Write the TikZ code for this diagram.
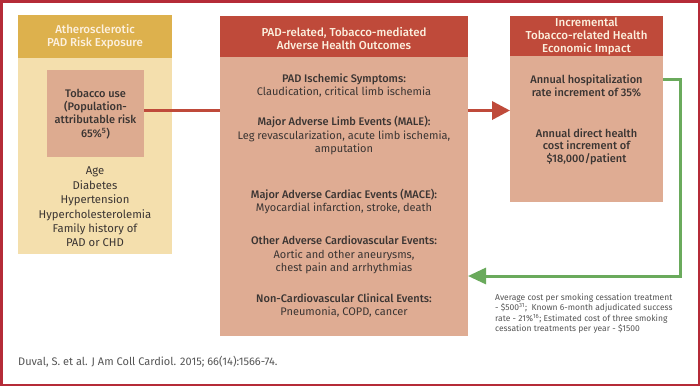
\documentclass[tikz,border=0pt]{standalone}
\usepackage{fontspec}
\setmainfont{Fira Sans}[BoldFont={Fira Sans Medium}]
\usetikzlibrary{arrows.meta}
\definecolor{frameR}{HTML}{B52B38}
\definecolor{goldHead}{HTML}{DDB14D}
\definecolor{goldBody}{HTML}{F4DFAD}
\definecolor{tobac}{HTML}{DDAB90}
\definecolor{redHead}{HTML}{BF4A3A}
\definecolor{redBody}{HTML}{DFAC93}
\definecolor{headTxt}{HTML}{FCF0DE}
\definecolor{bodyTxt}{HTML}{3B3533}
\definecolor{greenA}{HTML}{6AAA5C}
\definecolor{noteTxt}{HTML}{555555}
\tikzset{
  panel/.style={inner sep=0pt, outer sep=0pt, draw=none},
  headtext/.style={align=center, text=headTxt, font=\fontsize{11.5}{12.6}\selectfont\bfseries, inner sep=0pt},
  bodytext/.style={align=center, text=bodyTxt, font=\fontsize{11}{13.3}\selectfont, inner sep=0pt},
  redarrow/.style={draw=redHead, line width=3.5pt},
  greenarrow/.style={draw=greenA, line width=3pt}
}
\begin{document}
\begin{tikzpicture}[x=1pt,y=-1pt]
\useasboundingbox (0,0) rectangle (700,386);
\fill[white] (0,0) rectangle (700,386);
\draw[frameR, line width=2.5pt] (1.25,1.25) rectangle (698.75,384.75);

% left column
\node[panel, fill=goldHead, minimum width=154pt, minimum height=43pt] (lh) at (95,36.5) {};
\node[panel, fill=goldBody, minimum width=154pt, minimum height=196pt] (lb) at (95,156) {};
\node[headtext] (lht) at (95,36.5) {Atherosclerotic\\PAD Risk Exposure};
\node[panel, fill=tobac, minimum width=97pt, minimum height=87pt] (tob) at (95.5,113.5) {};
\node[bodytext, font=\fontsize{11}{13.3}\selectfont\bfseries] (tobt) at (95.5,114) {Tobacco use\\(Population-\\attributable risk\\65\%\textsuperscript{5})};
\node[bodytext, font=\fontsize{11.3}{14.4}\selectfont] (risk) at (95,207) {Age\\Diabetes\\Hypertension\\Hypercholesterolemia\\Family history of\\PAD or CHD};

% middle column
\node[panel, fill=redHead, minimum width=248pt, minimum height=41pt] (mh) at (344,36.5) {};
\node[panel, fill=redBody, minimum width=248pt, minimum height=279pt] (mb) at (344,196.5) {};
\node[headtext] (mht) at (344,38.5) {PAD-related, Tobacco-mediated\\Adverse Health Outcomes};
\node[bodytext] (m1) at (344,85.5) {\textbf{PAD Ischemic Symptoms:}\\Claudication, critical limb ischemia};
\node[bodytext] (m2) at (344,135.5) {\textbf{Major Adverse Limb Events (MALE):}\\Leg revascularization, acute limb ischemia,\\amputation};
\node[bodytext] (m3) at (344,201.5) {\textbf{Major Adverse Cardiac Events (MACE):}\\Myocardial infarction, stroke, death};
\node[bodytext] (m4) at (344,255) {\textbf{Other Adverse Cardiovascular Events:}\\Aortic and other aneurysms,\\chest pain and arrhythmias};
\node[bodytext] (m5) at (344,305.5) {\textbf{Non-Cardiovascular Clinical Events:}\\Pneumonia, COPD, cancer};

% right column
\node[panel, fill=redHead, minimum width=153pt, minimum height=40pt] (rh) at (586.5,36) {};
\node[panel, fill=redBody, minimum width=153pt, minimum height=146pt] (rb) at (586.5,129) {};
\node[headtext] (rht) at (586.5,36.5) {Incremental\\Tobacco-related Health\\Economic Impact};
\node[bodytext, font=\fontsize{11}{12.5}\selectfont\bfseries] (r1) at (586.5,86) {Annual hospitalization\\rate increment of 35\%};
\node[bodytext, font=\fontsize{11}{12.5}\selectfont\bfseries] (r2) at (586.5,146.5) {Annual direct health\\cost increment of\\\$18,000/patient};

% connectors
\coordinate (gA) at (680,79);
\coordinate (gB) at (680,276);
\draw[redarrow] (tob.east |- 0,110.5) -- (mb.west |- 0,110.5);
\draw[redarrow, -{Triangle[length=18pt,width=18pt]}] (mb.east |- 0,110.5) -- (rb.west |- 0,110.5);
\draw[greenarrow, -{Triangle[length=18pt,width=16pt]}] (rb.east |- 0,79) -- (gA) -- (gB) -- (mb.east |- gB);

% footnote
\node[anchor=north west, align=left, text=noteTxt, font=\fontsize{8.5}{10.4}\selectfont, inner sep=0pt] (note) at (495,293.5) {Average cost per smoking cessation treatment\\- \$500\textsuperscript{31};~ Known 6-month adjudicated success\\rate - 21\%\textsuperscript{16}; Estimated cost of three smoking\\cessation treatments per year - \$1500};

\node[anchor=west, text=noteTxt, font=\fontsize{11}{12}\selectfont, inner sep=0pt] (cite) at (18,362) {Duval, S. et al. J Am Coll Cardiol. 2015; 66(14):1566-74.};
\end{tikzpicture}
\end{document}
